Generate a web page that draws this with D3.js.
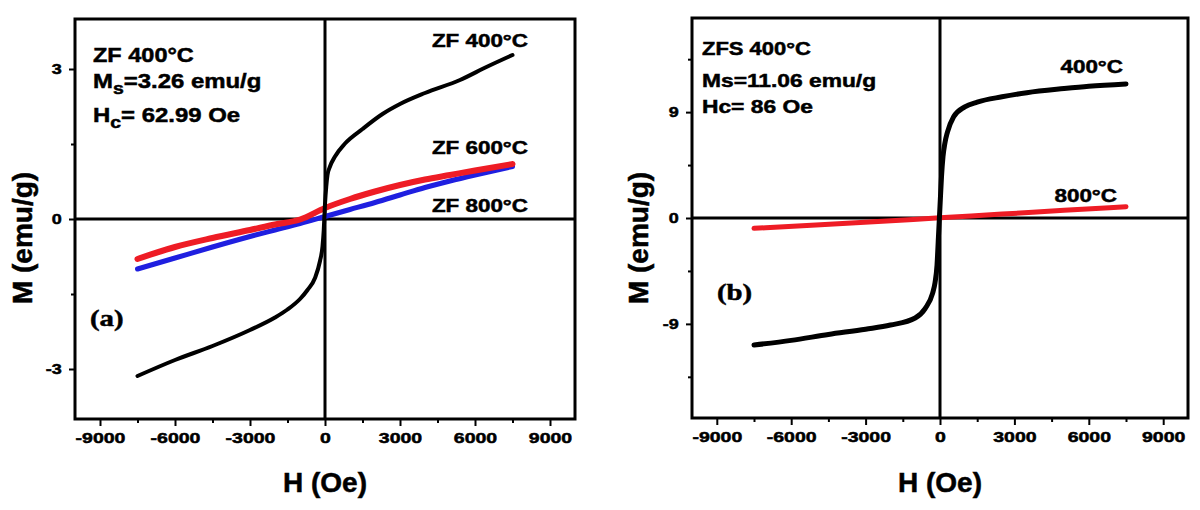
<!DOCTYPE html>
<html><head><meta charset="utf-8">
<script src="https://cdn.jsdelivr.net/npm/d3@7/dist/d3.min.js"></script>
<style>
html,body{margin:0;padding:0;background:#fff;}
svg{display:block;}
text{font-family:"Liberation Sans",Arial,sans-serif;font-weight:bold;fill:#000;stroke:#000;stroke-width:0.5px;}
</style></head>
<body><svg id="c" width="1200" height="510"></svg>
<script>
// ---------- data ----------
// panel (a)
const H_a400 = [-7500,-6000,-4500,-3000,-2000,-1500,-1000,-700,-400,-200,-100,-50,0,50,100,200,400,800,1500,2300,3000,4000,5400,6500,7500];
const M_a400 = [-3.14,-2.82,-2.54,-2.22,-1.97,-1.81,-1.60,-1.42,-1.18,-0.84,-0.55,-0.22,0.30,0.65,0.88,1.05,1.25,1.51,1.80,2.10,2.30,2.52,2.78,3.05,3.28];
const H_a600 = [-7500,-6000,-4500,-3000,-2000,-1000,0,1000,2000,3000,4000,5000,6000,7500];
const M_a600 = [-0.80,-0.56,-0.38,-0.22,-0.11,-0.01,0.22,0.40,0.55,0.68,0.79,0.88,0.97,1.10];
const H_a800 = [-7500,-6000,-4500,-3000,-2000,-1000,0,1000,2000,3000,4000,5000,6000,7500];
const M_a800 = [-1.00,-0.78,-0.56,-0.35,-0.22,-0.09,0.05,0.19,0.33,0.48,0.63,0.76,0.88,1.05];
// panel (b)
const H_b400 = [-7500,-6000,-4500,-3000,-2000,-1000,-600,-300,-200,-120,-60,0,60,120,200,300,550,1000,1500,2500,3500,5000,6000,7500];
const M_b400 = [-10.8,-10.4,-9.9,-9.45,-9.1,-8.5,-7.7,-6.4,-5.5,-4.0,-1.5,1.0,3.5,5.2,6.4,7.3,8.6,9.45,9.85,10.3,10.65,11.0,11.2,11.4];
const H_b800 = [-7500,-5000,-2500,0,2500,5000,7500];
const M_b800 = [-0.88,-0.60,-0.30,0.02,0.33,0.65,0.96];

const xTickLabels = [-9000,-6000,-3000,0,3000,6000,9000];
const xMinor = [-7500,-4500,-1500,1500,4500,7500];
const yTicksA = [-3,0,3];
const yMinorA = [-1.5,1.5];
const yTicksB = [-9,0,9];
const yMinorB = [-13.5,-4.5,4.5,13.5];

// ---------- drawing ----------
const svg = d3.select("#c");
const SX = 1.18;

function txt(g, x, y, s, size, anchor, sx) {
  return g.append("text")
    .attr("transform", `translate(${x},${y}) scale(${sx||SX},1)`)
    .attr("text-anchor", anchor || "start")
    .style("font-size", size + "px")
    .text(s);
}

function panel(opt) {
  const g = svg.append("g");
  const x = d3.scaleLinear().domain([-10000,10000]).range([opt.x0, opt.x1]);
  const y = d3.scaleLinear().domain(opt.ydom).range([opt.yb, opt.yt]);

  const ax = d3.axisBottom(x).tickValues(xTickLabels).tickSize(7).tickPadding(6).tickFormat(d => String(d));
  const axg = g.append("g").attr("transform", `translate(0,${opt.yb})`).call(ax);
  axg.select(".domain").remove();
  axg.selectAll(".tick line").attr("stroke", "#000").attr("stroke-width", 2);
  axg.selectAll(".tick text").style("font-size", "15px").style("font-family", "Liberation Sans, Arial, sans-serif").style("font-weight","bold")
     .attr("transform", "scale(1.3,1)").attr("fill", "#000").attr("stroke", "#000").attr("stroke-width", 0.6);
  const axm = d3.axisBottom(x).tickValues(xMinor).tickSize(4).tickFormat("");
  const axmg = g.append("g").attr("transform", `translate(0,${opt.yb})`).call(axm);
  axmg.select(".domain").remove();
  axmg.selectAll(".tick line").attr("stroke", "#000").attr("stroke-width", 2);

  const ay = d3.axisLeft(y).tickValues(opt.yticks).tickSize(6).tickPadding(5).tickFormat(d => String(d));
  const ayg = g.append("g").attr("transform", `translate(${opt.x0},0)`).call(ay);
  ayg.select(".domain").remove();
  ayg.selectAll(".tick line").attr("stroke", "#000").attr("stroke-width", 2);
  ayg.selectAll(".tick text").style("font-size", "15px").style("font-family", "Liberation Sans, Arial, sans-serif").style("font-weight","bold")
     .attr("transform", "scale(1.2,1)").attr("fill", "#000").attr("stroke", "#000").attr("stroke-width", 0.6);
  const aym = d3.axisLeft(y).tickValues(opt.yminor).tickSize(4).tickFormat("");
  const aymg = g.append("g").attr("transform", `translate(${opt.x0},0)`).call(aym);
  aymg.select(".domain").remove();
  aymg.selectAll(".tick line").attr("stroke", "#000").attr("stroke-width", 2);

  // zero lines
  g.append("line").attr("x1", opt.x0).attr("x2", opt.x1).attr("y1", y(0)).attr("y2", y(0))
    .attr("stroke", "#000").attr("stroke-width", 3);
  g.append("line").attr("x1", x(0)).attr("x2", x(0)).attr("y1", opt.yt).attr("y2", opt.yb)
    .attr("stroke", "#000").attr("stroke-width", 3);

  // curves
  const line = d3.line().x(d => x(d[0])).y(d => y(d[1])).curve(d3.curveMonotoneX);
  opt.series.forEach(s => {
    const pts = s.h.map((h, i) => [h, s.m[i]]);
    g.append("path").attr("d", line(pts)).attr("fill", "none")
      .attr("stroke", s.color).attr("stroke-width", s.w)
      .attr("stroke-linecap", "round").attr("stroke-linejoin", "round");
  });

  // frame
  g.append("rect").attr("x", opt.x0).attr("y", opt.yt).attr("width", opt.x1 - opt.x0).attr("height", opt.yb - opt.yt)
    .attr("fill", "none").attr("stroke", "#000").attr("stroke-width", 3);

  // axis titles
  txt(g, (opt.x0 + opt.x1) / 2, 492, "H (Oe)", 28, "middle", 1.0);
  g.append("text").attr("transform", `translate(${opt.ytx},238) rotate(-90)`)
    .attr("text-anchor", "middle").style("font-size", "28px").text("M (emu/g)");
  return {g, x, y};
}

// panel (a)
const A = panel({
  x0: 75, x1: 575, yt: 19, yb: 419, ydom: [-4, 4],
  yticks: yTicksA, yminor: yMinorA, ytx: 32,
  series: [
    {h: H_a800, m: M_a800, color: "#1f1fe0", w: 5},
    {h: H_a600, m: M_a600, color: "#ee1c25", w: 6},
    {h: H_a400, m: M_a400, color: "#000", w: 4}
  ]
});
txt(A.g, 93, 62, "ZF 400°C", 21, "start", 1.12);
const ms = A.g.append("text").attr("transform", "translate(93,88) scale(1.14,1)").style("font-size", "21px");
ms.append("tspan").text("M");
ms.append("tspan").attr("dy", 6).style("font-size", "17px").text("s");
ms.append("tspan").attr("dy", -6).text("=3.26 emu/g");
const hc = A.g.append("text").attr("transform", "translate(93,122) scale(1.14,1)").style("font-size", "21px");
hc.append("tspan").text("H");
hc.append("tspan").attr("dy", 6).style("font-size", "17px").text("c");
hc.append("tspan").attr("dy", -6).text("= 62.99 Oe");
txt(A.g, 528, 47, "ZF 400°C", 19, "end", 1.18);
txt(A.g, 528, 154, "ZF 600°C", 19, "end", 1.18);
txt(A.g, 528, 212, "ZF 800°C", 19, "end", 1.18);
A.g.append("text").attr("transform", "translate(90,326) scale(1.2,1)")
  .style("font-family", "Liberation Serif, Times New Roman, serif").style("font-size", "24px").text("(a)");

// panel (b)
const B = panel({
  x0: 692, x1: 1188, yt: 18, yb: 418, ydom: [-17, 17],
  yticks: yTicksB, yminor: yMinorB, ytx: 648,
  series: [
    {h: H_b800, m: M_b800, color: "#ee1c25", w: 5},
    {h: H_b400, m: M_b400, color: "#000", w: 5}
  ]
});
txt(B.g, 702, 55, "ZFS 400°C", 18, "start", 1.22);
txt(B.g, 702, 87, "Ms=11.06 emu/g", 19, "start", 1.2);
txt(B.g, 702, 113, "Hc= 86 Oe", 19, "start", 1.2);
txt(B.g, 1123, 73, "400°C", 19, "end", 1.18);
txt(B.g, 1117, 202, "800°C", 19, "end", 1.18);
B.g.append("text").attr("transform", "translate(717,300) scale(1.2,1)")
  .style("font-family", "Liberation Serif, Times New Roman, serif").style("font-size", "24px").text("(b)");
</script></body></html>
